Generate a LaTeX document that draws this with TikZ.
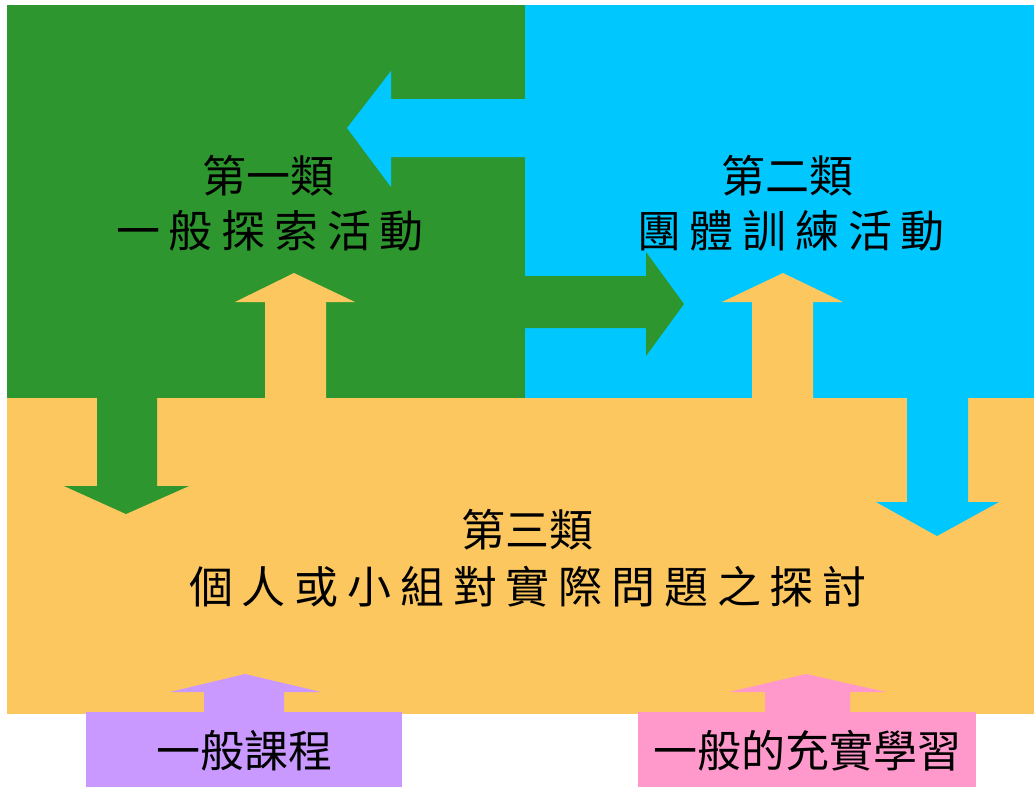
\documentclass[tikz,border=0pt]{standalone}
\usepackage{fontspec}
\newfontfamily\cjk{Noto Sans CJK TC}
\newfontfamily\cjkwide[LetterSpace=20]{Noto Sans CJK TC}
\definecolor{grassgreen}{RGB}{46,150,46}
\definecolor{skyblue}{RGB}{0,200,255}
\definecolor{sandorange}{RGB}{253,199,96}
\definecolor{lilac}{RGB}{202,153,255}
\definecolor{rosepink}{RGB}{255,153,204}
\tikzset{
  catlabel/.style={font=\cjk\fontsize{44}{48}\selectfont, inner sep=0pt},
  actlabel/.style={font=\cjkwide\fontsize{44}{48}\selectfont, inner sep=0pt},
}
\begin{document}
\begin{tikzpicture}[x=1pt, y=-1pt]
\useasboundingbox (0,0) rectangle (1034,787);

\fill[grassgreen] (7,5) rectangle (525,398);
\fill[skyblue] (525,5) rectangle (1034,398);
\fill[sandorange] (7,398) rectangle (1034,714);

\fill[skyblue] (525,99) -- (391,99) -- (391,71) -- (347,128) -- (391,187) -- (391,157) -- (525,157) -- cycle;
\fill[grassgreen] (525,276) -- (646,276) -- (646,252) -- (684,304) -- (646,356) -- (646,328) -- (525,328) -- cycle;
\fill[sandorange] (265,399) -- (265,302) -- (235,302) -- (294,273) -- (355,302) -- (326,302) -- (326,399) -- cycle;
\fill[sandorange] (752,399) -- (752,302) -- (722,302) -- (783,273) -- (843,302) -- (813,302) -- (813,399) -- cycle;
\fill[grassgreen] (97,397) -- (97,486) -- (64,486) -- (126,514) -- (189,486) -- (157,486) -- (157,397) -- cycle;
\fill[skyblue] (907,397) -- (907,502) -- (876,502) -- (937,536) -- (999,502) -- (968,502) -- (968,397) -- cycle;

\fill[lilac] (86,712) rectangle (402,787);
\fill[lilac] (204,713) -- (204,692) -- (170,692) -- (245,674) -- (321,692) -- (284,692) -- (284,713) -- cycle;
\fill[rosepink] (638,712) rectangle (976,787);
\fill[rosepink] (765,713) -- (765,692) -- (729,692) -- (806,674) -- (886,692) -- (850,692) -- (850,713) -- cycle;

\node[catlabel] (cat1) at (268,176) {第一類};
\node[actlabel] (act1) at (270,231) {一般探索活動};
\node[catlabel] (cat2) at (787,176) {第二類};
\node[actlabel] (act2) at (791,231) {團體訓練活動};
\node[catlabel] (cat3) at (527,530) {第三類};
\node[actlabel] (act3) at (528,587) {個人或小組對實際問題之探討};
\node[catlabel] (course) at (244,751) {一般課程};
\node[catlabel] (enrich) at (807,751) {一般的充實學習};
\end{tikzpicture}
\end{document}
